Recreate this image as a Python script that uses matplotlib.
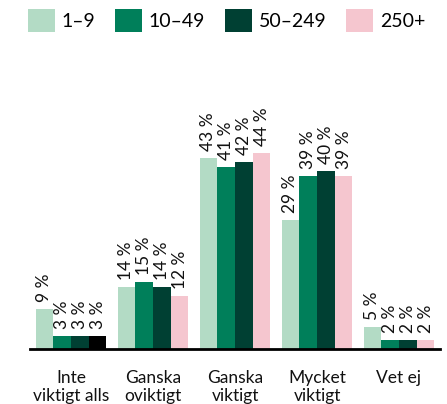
import matplotlib
matplotlib.use("Agg")
import matplotlib.pyplot as plt
from matplotlib.patches import Patch
import numpy as np

plt.rcParams['font.family'] = ['Lato', 'DejaVu Sans']

categories = ["Inte\nviktigt alls", "Ganska\noviktigt", "Ganska\nviktigt", "Mycket\nviktigt", "Vet ej"]
series_names = ["1–9", "10–49", "50–249", "250+"]
v_1_9 = [9, 14, 43, 29, 5]
v_10_49 = [3, 15, 41, 39, 2]
v_50_249 = [3, 14, 42, 40, 2]
v_250 = [3, 12, 44, 39, 2]
values = [v_1_9, v_10_49, v_50_249, v_250]
colors = ["#b3dbc5", "#007f5a", "#004033", "#f5c6cf"]

fig = plt.figure(figsize=(4.47, 4.04), dpi=100)
ax = fig.add_axes([30/447, 55/404, 410/447, 300/404])

x = np.arange(len(categories))
w = 0.216
for i, (vals, col) in enumerate(zip(values, colors)):
    pos = x + (i - 1.5) * w
    bar_colors = [col] * len(vals)
    if i == 3:
        bar_colors[0] = "#000000"
    ax.bar(pos, vals, width=w, color=bar_colors, linewidth=0)
    for px, v in zip(pos, vals):
        ax.annotate(f"{v} %", (px, v), xytext=(0, 5), textcoords="offset points",
                    rotation=90, ha="center", va="bottom", fontsize=12.5, color="#111111")

ax.set_xlim(-0.5, 4.5)
ax.set_ylim(0, 67.5)
ax.set_xticks(x)
ax.set_xticklabels(categories, fontsize=12.5, color="#111111", linespacing=1.2)
ax.tick_params(axis="x", length=0, pad=15)
ax.set_yticks([])
for s in ["top", "right", "left"]:
    ax.spines[s].set_visible(False)
ax.spines["bottom"].set_linewidth(2)
ax.spines["bottom"].set_color("#000000")

handles = [Patch(facecolor=c, edgecolor="none") for c in colors]
fig.legend(handles, series_names, loc="upper left", bbox_to_anchor=(10/447, 1 + 8/404),
           ncol=4, frameon=False, fontsize=14, handlelength=1.4, handleheight=1.4,
           handletextpad=0.35, columnspacing=1.0)

fig.savefig("out.png", dpi=100)
